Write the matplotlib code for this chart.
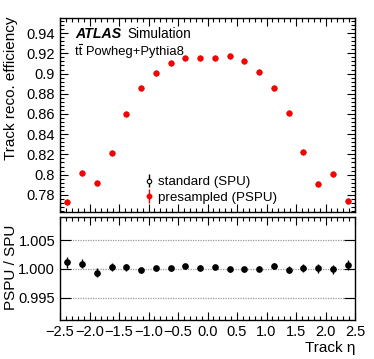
import matplotlib
matplotlib.use("Agg")
import matplotlib.pyplot as plt
import numpy as np
from matplotlib.ticker import MultipleLocator, FixedLocator
from matplotlib.lines import Line2D

plt.rcParams['font.family'] = ['Liberation Sans', 'DejaVu Sans']

eta = [-2.375, -2.125, -1.875, -1.625, -1.375, -1.125, -0.875, -0.625, -0.375, -0.125,
       0.125, 0.375, 0.625, 0.875, 1.125, 1.375, 1.625, 1.875, 2.125, 2.375]
eff_pspu = [0.7728, 0.8016, 0.7915, 0.8212, 0.8602, 0.8859, 0.9010, 0.9103, 0.9151, 0.9157,
            0.9157, 0.9170, 0.9124, 0.9017, 0.8860, 0.8608, 0.8228, 0.7912, 0.8007, 0.7738]
ratio = [1.0011, 1.0009, 0.9993, 1.0003, 1.0003, 0.9998, 1.0001, 1.0001, 1.0004, 1.0002,
         1.0003, 0.9999, 0.9999, 1.0000, 1.0005, 0.9998, 1.0002, 1.0001, 0.9999, 1.0007]
ratio_err = [0.0009, 0.0008, 0.0008, 0.0007, 0.0006, 0.0005, 0.0004, 0.0004, 0.0004, 0.0004,
             0.0004, 0.0004, 0.0004, 0.0004, 0.0005, 0.0006, 0.0007, 0.0008, 0.0008, 0.0009]
legend_labels = ["standard (SPU)", "presampled (PSPU)"]

W, H = 374, 359
fig = plt.figure(figsize=(W/100, H/100), dpi=100)

def px_axes(l, t, r, b):
    return fig.add_axes([l/W, 1-b/H, (r-l)/W, (b-t)/H])

ax1 = px_axes(60, 18, 355, 212)
ax2 = px_axes(60, 217, 355, 320)

fs = 10.5
for ax in (ax1, ax2):
    ax.set_xlim(-2.5, 2.5)
    ax.xaxis.set_major_locator(MultipleLocator(0.5))
    ax.xaxis.set_minor_locator(MultipleLocator(0.1))
    ax.tick_params(which='both', direction='in', top=True, right=True, labelsize=fs, width=0.8)
    ax.tick_params(which='major', length=6)
    ax.tick_params(which='minor', length=3)
    for s in ax.spines.values():
        s.set_linewidth(1.0)

# top panel
ax1.set_ylim(0.763, 0.955)
ax1.yaxis.set_minor_locator(MultipleLocator(0.004))
ax1.set_yticks([0.78, 0.80, 0.82, 0.84, 0.86, 0.88, 0.90, 0.92, 0.94])
ax1.set_yticklabels(['0.78', '0.8', '0.82', '0.84', '0.86', '0.88', '0.9', '0.92', '0.94'])
ax1.tick_params(axis='x', labelbottom=False)
ax1.plot(eta, eff_pspu, 'o', color='#ff0000', ms=4.0, mec='#dd0000', mew=0.5, zorder=3)

tx, ty1, ty2 = 75/W, 1-37.5/H, 1-55/H
fig.text(tx, ty1, "ATLAS", fontsize=10.2, fontweight='bold', fontstyle='italic',
         ha='left', va='baseline')
fig.text(tx + 52/W, ty1, "Simulation", fontsize=9.8, ha='left', va='baseline')
fs_proc = 9.4
t2 = fig.text(tx, ty2, "tt Powheg+Pythia8", fontsize=fs_proc, ha='left', va='baseline')
fig.canvas.draw()
r = fig.canvas.get_renderer()
probe = fig.text(0, 0, "t", fontsize=fs_proc)
wt = probe.get_window_extent(renderer=r).width
probe.remove()
x0 = t2.get_window_extent(renderer=r).x0
ybar = (H - 55 + 11) / H
fig.add_artist(Line2D([(x0 + wt + 0.6) / W, (x0 + 2 * wt - 0.2) / W], [ybar, ybar],
                      transform=fig.transFigure, color='black', lw=0.8))

h_spu = ax1.errorbar([], [], yerr=[], fmt='o', mfc='white', mec='black', color='black',
                     ms=3.2, elinewidth=1.0, mew=0.8)
h_pspu = ax1.errorbar([], [], yerr=[], fmt='o', mfc='#ff0000', mec='#ff0000', color='#ff0000',
                      ms=3.2, elinewidth=1.0)
ax1.legend([h_spu, h_pspu], legend_labels, loc='upper left', bbox_to_anchor=(0.285, 0.185),
           frameon=False, fontsize=9.6, handlelength=0.7, handletextpad=0.35, labelspacing=0.22,
           borderpad=0, borderaxespad=0)

# bottom panel
ax2.set_ylim(0.9911, 1.009)
ax2.set_yticks([0.995, 1.000, 1.005])
ax2.set_yticklabels(['0.995', '1.000', '1.005'])
ax2.yaxis.set_minor_locator(FixedLocator([]))
ax2.tick_params(axis='y', which='major', length=8)
for v in [0.995, 1.000, 1.005]:
    ax2.axhline(v, color='#999999', lw=0.9, ls=(0, (1, 1)), zorder=1)
ax2.errorbar(eta, ratio, yerr=ratio_err, fmt='o', color='black', ms=3.8, elinewidth=1.0,
             capsize=0, zorder=3)

fig.text(11/W, 1-16/H, "Track reco. efficiency", rotation=90, ha='center', va='top', fontsize=11)
fig.text(11/W, 1-267/H, "PSPU / SPU", rotation=90, ha='center', va='center', fontsize=11)
fig.text(355/W, 1-348/H, "Track η", ha='right', va='center', fontsize=11)

fig.savefig("out.png", dpi=100)
